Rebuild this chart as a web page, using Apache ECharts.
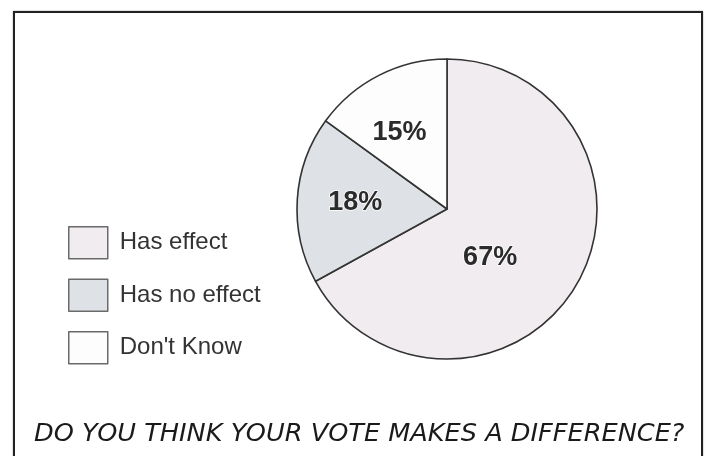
<!DOCTYPE html>
<html>
<head>
<meta charset="utf-8">
<script src="https://cdn.jsdelivr.net/npm/echarts@6/dist/echarts.min.js"></script>
<style>
  html, body { margin: 0; padding: 0; background: #ffffff; }
  #chart { position: absolute; left: 0; top: 0; width: 705px; height: 456px; }
  #frame { position: absolute; left: 13px; top: 11px; width: 686px; height: 520px;
           border: 2px solid #222; box-shadow: 0 0 1.5px #999; pointer-events: none; }
</style>
</head>
<body>
<div id="chart"></div>
<div id="frame"></div>
<script>
// ---- data ----
const categories = ["Has effect", "Has no effect", "Don't Know"];
const values = [67, 18, 15];
const sliceColors = ["#f0ecf0", "#dee2e6", "#fefdfe"];
const labelOffsets = [[-24, 9], [-14, -2], [-12, -7]];
const titleText = "DO YOU THINK YOUR VOTE MAKES A DIFFERENCE?";

const chart = echarts.init(document.getElementById('chart'), null, { renderer: 'canvas' });

const seriesData = categories.map((name, i) => ({
  name: name,
  value: values[i],
  itemStyle: { color: sliceColors[i] },
  label: { offset: labelOffsets[i] }
}));

chart.setOption({
  animation: false,
  backgroundColor: '#ffffff',
  title: {
    text: titleText,
    left: 34,
    top: 421,
    padding: 0,
    textStyle: {
      fontFamily: 'DejaVu Sans',
      fontStyle: 'italic',
      fontWeight: 200,
      fontSize: 25.6,
      color: '#1a1a1a'
    }
  },
  legend: {
    orient: 'vertical',
    left: 68,
    top: 226,
    padding: 0,
    itemWidth: 39,
    itemHeight: 32,
    itemGap: 19,
    icon: 'rect',
    selectedMode: false,
    data: categories,
    itemStyle: { borderColor: '#6a6a6a', borderWidth: 1.5 },
    textStyle: {
      fontFamily: 'Arial',
      fontSize: 24,
      color: '#333333',
      padding: [0, 0, 0, 7]
    }
  },
  series: [{
    type: 'pie',
    center: [447, 209],
    radius: [0, 150],
    startAngle: 90,
    clockwise: true,
    silent: true,
    avoidLabelOverlap: false,
    itemStyle: { borderColor: '#333333', borderWidth: 1.6 },
    label: {
      show: true,
      position: 'inside',
      formatter: '{c}%',
      fontFamily: 'Arial',
      fontWeight: 'bold',
      fontSize: 27,
      color: '#2b2b2b',
      textBorderColor: '#ffffff',
      textBorderWidth: 1.5
    },
    labelLine: { show: false },
    emphasis: { disabled: true },
    data: seriesData
  }]
});
</script>
</body>
</html>
